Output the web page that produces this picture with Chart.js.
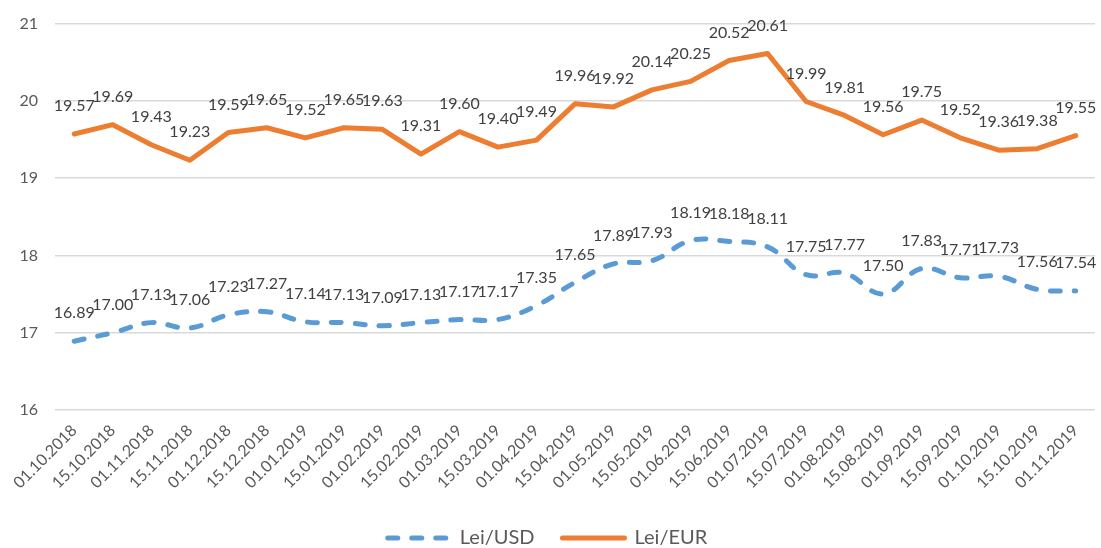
<!DOCTYPE html>
<html>
<head>
<meta charset="utf-8">
<script src="https://cdn.jsdelivr.net/npm/chart.js@4/dist/chart.umd.min.js"></script>
<style>
  html, body { margin: 0; padding: 0; background: #fff; }
  #wrap { width: 1101px; height: 548px; }
</style>
</head>
<body>
<div id="wrap"><canvas id="rates"></canvas></div>
<script>
const dates = ["01.10.2018","15.10.2018","01.11.2018","15.11.2018","01.12.2018","15.12.2018",
  "01.01.2019","15.01.2019","01.02.2019","15.02.2019","01.03.2019","15.03.2019","01.04.2019",
  "15.04.2019","01.05.2019","15.05.2019","01.06.2019","15.06.2019","01.07.2019","15.07.2019",
  "01.08.2019","15.08.2019","01.09.2019","15.09.2019","01.10.2019","15.10.2019","01.11.2019"]
const leiUsd = [16.89,17.00,17.13,17.06,17.23,17.27,17.14,17.13,17.09,17.13,17.17,17.17,17.35,
  17.65,17.89,17.93,18.19,18.18,18.11,17.75,17.77,17.50,17.83,17.71,17.73,17.56,17.54]
const leiEur = [19.57,19.69,19.43,19.23,19.59,19.65,19.52,19.65,19.63,19.31,19.60,19.40,19.49,
  19.96,19.92,20.14,20.25,20.52,20.61,19.99,19.81,19.56,19.75,19.52,19.36,19.38,19.55]
const yTicks = [16, 17, 18, 19, 20, 21]

const fontFam = "Lato, 'Liberation Sans', sans-serif"

// draws the value over each point, like excel data labels
const valueLabels = {
  id: 'valueLabels',
  afterDatasetsDraw(chart) {
    const ctx = chart.ctx
    ctx.save()
    ctx.font = "16px " + fontFam
    ctx.fillStyle = "#404040"
    ctx.textAlign = "center"
    ctx.textBaseline = "middle"
    chart.data.datasets.forEach((ds, i) => {
      chart.getDatasetMeta(i).data.forEach((pt, j) => {
        ctx.fillText(ds.data[j].toFixed(2), pt.x, pt.y - 28)
      })
    })
    ctx.restore()
  }
}

const rateChart = new Chart(document.getElementById("rates"), {
  type: 'line',
  data: {
    labels: dates,
    datasets: [{
      label: "Lei/USD",
      data: leiUsd,
      borderColor: "#5B9BD5",
      backgroundColor: "#5B9BD5",
      borderWidth: 5,
      borderDash: [10, 14],
      borderCapStyle: 'round',
      tension: 0.4,
      pointRadius: 0
    }, {
      label: "Lei/EUR",
      data: leiEur,
      borderColor: "#ED7D31",
      backgroundColor: "#ED7D31",
      borderWidth: 5,
      borderCapStyle: 'round',
      borderJoinStyle: 'round',
      tension: 0,
      pointRadius: 0
    }]
  },
  options: {
    responsive: true,
    maintainAspectRatio: false,
    animation: false,
    layout: { padding: { top: 6, right: 6, bottom: -10, left: 0 } },
    plugins: {
      tooltip: { enabled: false },
      legend: {
        position: 'bottom',
        labels: {
          usePointStyle: true,
          pointStyle: 'line',
          pointStyleWidth: 62,
          boxWidth: 62,
          boxHeight: 10,
          padding: 28,
          color: "#595959",
          font: { family: fontFam, size: 20 },
          generateLabels: (chart) => {
            const items = Chart.defaults.plugins.legend.labels.generateLabels(chart)
            items.forEach(it => {
              const ds = chart.data.datasets[it.datasetIndex]
              it.lineDash = ds.borderDash || []
              it.lineWidth = 5
              it.lineCap = 'round'
              it.strokeStyle = ds.borderColor
            })
            return items
          }
        }
      }
    },
    scales: {
      x: {
        offset: true,
        grid: { display: false },
        border: { display: false },
        ticks: {
          maxRotation: 45,
          minRotation: 45,
          autoSkip: false,
          color: "#595959",
          font: { family: fontFam, size: 16 }
        },
        afterFit: (s) => { s.height = 90 }
      },
      y: {
        min: 16,
        max: 21,
        afterBuildTicks: (s) => { s.ticks = yTicks.map(v => ({ value: v })) },
        grid: { color: "#D9D9D9", lineWidth: 1.5, drawTicks: false },
        border: { display: false },
        ticks: {
          padding: 17,
          color: "#595959",
          font: { family: fontFam, size: 16, lineHeight: 0.8 }
        },
        afterFit: (s) => { s.width = 55 }
      }
    }
  },
  plugins: [valueLabels]
})
</script>
</body>
</html>
